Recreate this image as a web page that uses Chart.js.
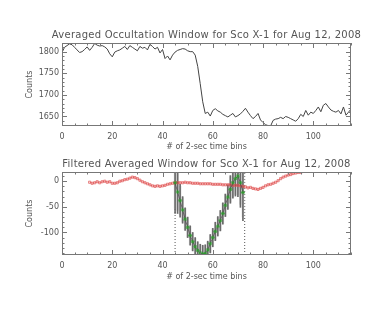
<!DOCTYPE html>
<html>
<head>
<meta charset="utf-8">
<script src="https://cdn.jsdelivr.net/npm/chart.js@4.4.0/dist/chart.umd.min.js"></script>
<style>
  html, body { margin: 0; padding: 0; background: #fff; }
  #wrap { position: relative; width: 379px; height: 309px; }
  canvas { position: absolute; left: 0; }
  #top { top: 0; }
  #bottom { top: 155px; }
</style>
</head>
<body>
<div id="wrap">
  <canvas id="top" width="379" height="155"></canvas>
  <canvas id="bottom" width="379" height="154"></canvas>
</div>
<script>
// averaged counts, one value per 2-sec bin starting at bin 0
const avgCounts = [
  1798, 1810, 1814, 1818, 1816, 1810, 1804, 1798, 1800, 1805,
  1811, 1803, 1810, 1819, 1815, 1813, 1814, 1811, 1806, 1795,
  1788, 1799, 1802, 1804, 1808, 1812, 1805, 1814, 1810, 1806,
  1802, 1812, 1808, 1810, 1804, 1817, 1812, 1806, 1810, 1797,
  1805, 1784, 1790, 1781, 1792, 1799, 1803, 1805, 1807, 1806,
  1802, 1800, 1800, 1792, 1766, 1726, 1684, 1657, 1660, 1651,
  1664, 1668, 1663, 1660, 1655, 1652, 1649, 1653, 1657, 1649,
  1652, 1656, 1662, 1669, 1660, 1652, 1645, 1650, 1657, 1642,
  1636, 1631, 1629, 1628, 1641, 1644, 1645, 1648, 1645, 1650,
  1648, 1645, 1642, 1639, 1645, 1655, 1650, 1664, 1653, 1660,
  1657, 1664, 1672, 1661, 1676, 1680, 1672, 1665, 1662, 1660,
  1664, 1656, 1672, 1653, 1660, 1667
];

// filtered window (red squares), starting at bin 11
const filteredStart = 11;
const filteredCounts = [
  -2, -4, -3, -1, -3, -1, 0, -2, -1, -4,
  -4, -3, 0, 1, 3, 4, 6, 8, 7, 5,
  2, -1, -3, -5, -7, -9, -10, -9, -10, -9,
  -8, -6, -5, -4, -3, -3, -3, -3, -2, -3,
  -3, -4, -4, -4, -5, -5, -5, -5, -5, -6,
  -6, -6, -6, -7, -7, -7, -7, -8, -8, -8,
  -9, -10, -11, -13, -12, -14, -15, -16, -14, -12,
  -9, -7, -6, -4, -2, 1, 5, 8, 10, 12,
  13, 15, 16, 17, 17
];

// occultation dip (green), starting at bin 45
const dipStart = 45;
const dipCounts = [
  -3, -21, -38, -56, -74, -90, -106, -118, -128, -135,
  -140, -142, -141, -134, -122, -110, -98, -88, -77, -63,
  -47, -31, -16, -3, 5, 10, -3, -22
];
const dipErr = [
  60, 42, 32, 26, 22, 20, 19, 18, 18, 17,
  17, 17, 17, 17, 18, 18, 18, 19, 20, 21,
  22, 24, 27, 30, 34, 40, 48, 55
];
const dipErr2 = [
  50, 36, 28, 24, 21, 19, 18, 17, 17, 16,
  16, 16, 16, 16, 17, 17, 17, 18, 19, 20,
  21, 23, 25, 28, 31, 36, 42, 48
];
const windowEdges = [45, 72.7];

const binRange = [0, 115];
const topRange = [1628, 1820];
const bottomRange = [-144, 18];

const textColor = '#555';
const fontFam = 'DejaVu Sans';

// IDL style box with inward ticks on all four sides, title centred on the plot box
const idlFrame = {
  id: 'idlFrame',
  afterDatasetsDraw(chart, args, opts) {
    const {ctx, chartArea: a, scales: {x, y}} = chart;
    ctx.save();
    ctx.strokeStyle = '#777';
    ctx.lineWidth = 1;
    ctx.strokeRect(a.left + 0.5, a.top + 0.5, a.right - a.left - 1, a.bottom - a.top - 1);
    ctx.beginPath();
    for (let v = Math.ceil(x.min / opts.xMinor) * opts.xMinor; v <= x.max; v += opts.xMinor) {
      const px = Math.round(x.getPixelForValue(v)) + 0.5;
      const len = (v % opts.xMajor === 0) ? 5 : 2.5;
      ctx.moveTo(px, a.bottom); ctx.lineTo(px, a.bottom - len);
      ctx.moveTo(px, a.top); ctx.lineTo(px, a.top + len);
    }
    for (let v = Math.ceil(y.min / opts.yMinor) * opts.yMinor; v <= y.max; v += opts.yMinor) {
      const py = Math.round(y.getPixelForValue(v)) + 0.5;
      const len = (v % opts.yMajor === 0) ? 5 : 2.5;
      ctx.moveTo(a.left, py); ctx.lineTo(a.left + len, py);
      ctx.moveTo(a.right, py); ctx.lineTo(a.right - len, py);
    }
    ctx.stroke();

    ctx.fillStyle = textColor;
    ctx.font = '10px "' + fontFam + '"';
    ctx.letterSpacing = '0.25px';
    ctx.textAlign = 'center';
    ctx.textBaseline = 'middle';
    ctx.fillText(opts.title, (a.left + a.right) / 2, a.top + opts.titleOffset);
    ctx.restore();
  }
};

function baseOptions(title, yRange, layoutTop, titleOffset, xTitleBottom, xAxisHeight) {
  return {
    responsive: false,
    animation: false,
    devicePixelRatio: 1,
    layout: {padding: {left: 0, right: 28, top: layoutTop, bottom: 0}},
    plugins: {
      legend: {display: false},
      tooltip: {enabled: false},
      title: {display: false},
      idlFrame: {xMinor: 5, xMajor: 20, yMinor: 10, yMajor: 50, title: title, titleOffset: titleOffset}
    },
    scales: {
      x: {
        type: 'linear', min: binRange[0], max: binRange[1], offset: false,
        grid: {display: false, drawTicks: false, offset: false},
        border: {display: false},
        ticks: {stepSize: 20, includeBounds: false, color: textColor, padding: 6,
                maxRotation: 0, font: {family: fontFam, size: 8}, callback: v => String(v)},
        title: {display: true, text: '# of 2-sec time bins', color: textColor,
                font: {family: fontFam, size: 8}, padding: {top: 0, bottom: xTitleBottom}},
        afterFit: s => { s.height = xAxisHeight; }
      },
      y: {
        type: 'linear', min: yRange[0], max: yRange[1],
        grid: {display: false, drawTicks: false},
        border: {display: false},
        ticks: {stepSize: 50, includeBounds: false, color: textColor, padding: 3,
                font: {family: fontFam, size: 8}, callback: v => String(v)},
        title: {display: true, text: 'Counts', color: textColor,
                font: {family: fontFam, size: 8}, padding: {top: 25, bottom: 0}},
        afterFit: s => { s.width = 62; }
      }
    }
  };
}

new Chart(document.getElementById('top'), {
  type: 'line',
  data: {
    datasets: [{
      data: avgCounts.map((v, i) => ({x: i, y: v})),
      borderColor: '#444', borderWidth: 1, pointRadius: 0, tension: 0
    }]
  },
  options: baseOptions('Averaged Occultation Window for Sco X-1 for Aug 12, 2008',
                       topRange, 43, -8, 3.2, 29),
  plugins: [idlFrame]
});

new Chart(document.getElementById('bottom'), {
  type: 'line',
  data: {
    datasets: [
      {
        data: filteredCounts.map((v, i) => ({x: filteredStart + i, y: v})),
        borderColor: 'rgba(220,60,60,0.7)', borderWidth: 0.7,
        pointStyle: 'rect', pointRadius: 1.5, pointBorderWidth: 0.7,
        pointBorderColor: '#e05050', pointBackgroundColor: 'rgba(255,255,255,0)',
        order: 1
      },
      {
        data: dipCounts.map((v, i) => ({x: dipStart + i, y: v})),
        borderColor: '#444', borderWidth: 0.7,
        pointStyle: 'star', pointRadius: 2, pointBorderWidth: 0.8,
        pointBorderColor: '#2e9a2e', pointBackgroundColor: '#2e9a2e',
        order: 0
      },
      {
        type: 'bar', grouped: false,
        data: dipCounts.map((v, i) => ({x: dipStart + i, y: [v - dipErr[i], v + dipErr[i]]})),
        backgroundColor: '#6a6a6a', barThickness: 1, borderWidth: 0,
        order: 2
      },
      {
        type: 'bar', grouped: false,
        data: dipCounts.map((v, i) => ({x: dipStart + i, y: [v - dipErr2[i], v + dipErr2[i]]})),
        backgroundColor: '#e0e0e0', barThickness: 2, borderWidth: 0,
        order: 3
      },
      ...windowEdges.map(e => ({
        data: [{x: e, y: bottomRange[0]}, {x: e, y: bottomRange[1]}],
        borderColor: '#555', borderWidth: 1, borderDash: [1, 2],
        pointRadius: 0, order: 4
      }))
    ]
  },
  options: baseOptions('Filtered Averaged Window for Sco X-1 for Aug 12, 2008',
                       bottomRange, 17, -7.5, 27.2, 54),
  plugins: [idlFrame]
});
</script>
</body>
</html>
